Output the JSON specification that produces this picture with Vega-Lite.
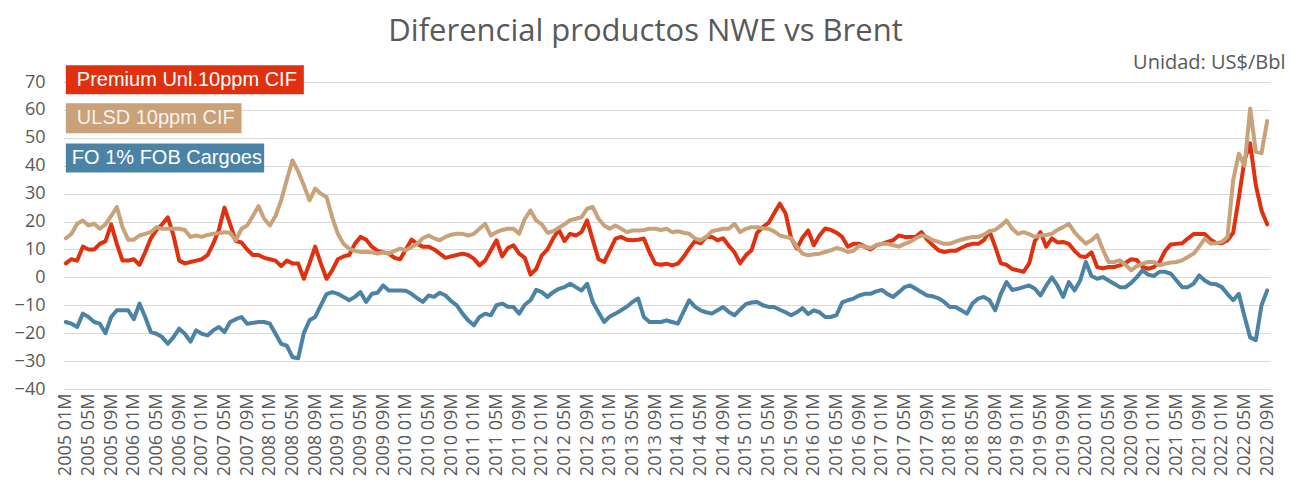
{
  "$schema": "https://vega.github.io/schema/vega-lite/v6.json",
  "width": 1207,
  "height": 307,
  "autosize": "none",
  "padding": {"left": 63, "top": 82, "right": 20, "bottom": 113},
  "background": "white",
  "config": {"view": {"stroke": null}},
  "title": {"text": "Diferencial productos NWE vs Brent", "anchor": "middle", "frame": "group", "dx": -21, "offset": 4, "font": "Open Sans", "fontSize": 31, "fontWeight": "normal", "color": "#595959"},
  "resolve": {"axis": {"x": "independent", "y": "independent"}},
  "layer": [
    {
      "data": {"values": [
{"m":"2005 01M","p":5,"u":14,"f":-16},{"m":"2005 02M","p":6.5,"u":15.6,"f":-16.6},{"m":"2005 03M","p":6,"u":19.2,"f":-17.8},{"m":"2005 04M","p":11,"u":20.4,"f":-13},{"m":"2005 05M","p":10,"u":18.6,"f":-14.2},{"m":"2005 06M","p":10,"u":19.2,"f":-16},{"m":"2005 07M","p":12,"u":17.4,"f":-16.6},{"m":"2005 08M","p":13,"u":19,"f":-20},{"m":"2005 09M","p":19,"u":22,"f":-14.2},{"m":"2005 10M","p":12,"u":25.2,"f":-11.8},{"m":"2005 11M","p":6,"u":18,"f":-11.8},{"m":"2005 12M","p":6,"u":13.5,"f":-11.8},
{"m":"2006 01M","p":6.5,"u":13.5,"f":-15},{"m":"2006 02M","p":4.5,"u":15,"f":-9.4},{"m":"2006 03M","p":9,"u":15.6,"f":-14.2},{"m":"2006 04M","p":14,"u":16.2,"f":-19.6},{"m":"2006 05M","p":17,"u":18,"f":-20.2},{"m":"2006 06M","p":19,"u":17.4,"f":-21.4},{"m":"2006 07M","p":21.5,"u":17.4,"f":-23.8},{"m":"2006 08M","p":15,"u":17.4,"f":-21.4},{"m":"2006 09M","p":6,"u":17.4,"f":-18.4},{"m":"2006 10M","p":5,"u":17,"f":-20.2},{"m":"2006 11M","p":5.5,"u":14.5,"f":-23},{"m":"2006 12M","p":6,"u":15,"f":-19},
{"m":"2007 01M","p":6.5,"u":14.5,"f":-20.2},{"m":"2007 02M","p":8,"u":15.2,"f":-20.8},{"m":"2007 03M","p":12,"u":15.6,"f":-19},{"m":"2007 04M","p":17,"u":15.8,"f":-17.8},{"m":"2007 05M","p":25,"u":16.2,"f":-19.6},{"m":"2007 06M","p":19,"u":16,"f":-16},{"m":"2007 07M","p":13,"u":13.3,"f":-15},{"m":"2007 08M","p":12.5,"u":17.4,"f":-14.2},{"m":"2007 09M","p":10,"u":18.6,"f":-16.6},{"m":"2007 10M","p":8,"u":22,"f":-16.3},{"m":"2007 11M","p":8,"u":25.5,"f":-16},{"m":"2007 12M","p":7,"u":21,"f":-16},
{"m":"2008 01M","p":6.5,"u":18.6,"f":-16.6},{"m":"2008 02M","p":6,"u":22,"f":-20.2},{"m":"2008 03M","p":4,"u":27.6,"f":-23.8},{"m":"2008 04M","p":6,"u":35,"f":-24.5},{"m":"2008 05M","p":5,"u":41.9,"f":-28.6},{"m":"2008 06M","p":5,"u":38,"f":-29},{"m":"2008 07M","p":-0.5,"u":33,"f":-20},{"m":"2008 08M","p":5,"u":27.6,"f":-15.4},{"m":"2008 09M","p":11,"u":31.8,"f":-14.2},{"m":"2008 10M","p":5,"u":30,"f":-10},{"m":"2008 11M","p":-0.5,"u":28.8,"f":-6},{"m":"2008 12M","p":2.5,"u":21.6,"f":-5.3},
{"m":"2009 01M","p":6.5,"u":15.6,"f":-5.9},{"m":"2009 02M","p":7.5,"u":12,"f":-7},{"m":"2009 03M","p":8,"u":10.3,"f":-8.2},{"m":"2009 04M","p":12,"u":9.5,"f":-7},{"m":"2009 05M","p":14.5,"u":9.1,"f":-5.3},{"m":"2009 06M","p":13.5,"u":9.1,"f":-8.8},{"m":"2009 07M","p":11,"u":9,"f":-5.9},{"m":"2009 08M","p":9.5,"u":8.5,"f":-5.5},{"m":"2009 09M","p":9,"u":9,"f":-2.9},{"m":"2009 10M","p":8.5,"u":8.5,"f":-4.7},{"m":"2009 11M","p":7,"u":9.5,"f":-4.7},{"m":"2009 12M","p":6.5,"u":10.3,"f":-4.7},
{"m":"2010 01M","p":10,"u":9.7,"f":-4.8},{"m":"2010 02M","p":13.5,"u":10.9,"f":-5.9},{"m":"2010 03M","p":12,"u":12,"f":-7.5},{"m":"2010 04M","p":11,"u":14,"f":-8.8},{"m":"2010 05M","p":11,"u":15,"f":-6.5},{"m":"2010 06M","p":10,"u":14,"f":-7},{"m":"2010 07M","p":8.5,"u":13.3,"f":-5.5},{"m":"2010 08M","p":7,"u":14.5,"f":-6.5},{"m":"2010 09M","p":7.5,"u":15.3,"f":-8.5},{"m":"2010 10M","p":8,"u":15.6,"f":-10},{"m":"2010 11M","p":8.5,"u":15.6,"f":-13},{"m":"2010 12M","p":8,"u":15,"f":-15.4},
{"m":"2011 01M","p":6.7,"u":15.6,"f":-17.2},{"m":"2011 02M","p":4.3,"u":17.4,"f":-14.2},{"m":"2011 03M","p":6,"u":19.2,"f":-13},{"m":"2011 04M","p":9.7,"u":15,"f":-13.6},{"m":"2011 05M","p":13.3,"u":16.2,"f":-10},{"m":"2011 06M","p":7.5,"u":17,"f":-9.4},{"m":"2011 07M","p":10.5,"u":17.4,"f":-10.5},{"m":"2011 08M","p":11.5,"u":17.4,"f":-10.6},{"m":"2011 09M","p":8.5,"u":15.6,"f":-13},{"m":"2011 10M","p":7,"u":21,"f":-9.8},{"m":"2011 11M","p":1,"u":24,"f":-8.2},{"m":"2011 12M","p":3,"u":20.4,"f":-4.5},
{"m":"2012 01M","p":7.9,"u":19,"f":-5.3},{"m":"2012 02M","p":10,"u":16,"f":-7},{"m":"2012 03M","p":14,"u":16.5,"f":-5.3},{"m":"2012 04M","p":17,"u":17.8,"f":-4.1},{"m":"2012 05M","p":13,"u":19,"f":-3.5},{"m":"2012 06M","p":15.6,"u":20.5,"f":-2.3},{"m":"2012 07M","p":15,"u":21,"f":-3.5},{"m":"2012 08M","p":16.2,"u":21.6,"f":-4.7},{"m":"2012 09M","p":20.4,"u":24.6,"f":-2.3},{"m":"2012 10M","p":13.3,"u":25.2,"f":-8.8},{"m":"2012 11M","p":6.5,"u":21,"f":-12.5},{"m":"2012 12M","p":5.5,"u":18.6,"f":-16},
{"m":"2013 01M","p":9.7,"u":17.4,"f":-14},{"m":"2013 02M","p":13.9,"u":18.6,"f":-13},{"m":"2013 03M","p":14.5,"u":17.4,"f":-11.8},{"m":"2013 04M","p":13.5,"u":16.2,"f":-10.5},{"m":"2013 05M","p":13.3,"u":16.8,"f":-8.8},{"m":"2013 06M","p":13.5,"u":16.8,"f":-7.6},{"m":"2013 07M","p":13.9,"u":17,"f":-14.2},{"m":"2013 08M","p":9,"u":17.4,"f":-16},{"m":"2013 09M","p":4.9,"u":17.4,"f":-16},{"m":"2013 10M","p":4.5,"u":17,"f":-16},{"m":"2013 11M","p":4.9,"u":17.4,"f":-15.4},{"m":"2013 12M","p":4.3,"u":16.2,"f":-16},
{"m":"2014 01M","p":4.9,"u":16.5,"f":-16.6},{"m":"2014 02M","p":7.3,"u":16,"f":-12.4},{"m":"2014 03M","p":10.3,"u":15.6,"f":-8.2},{"m":"2014 04M","p":13,"u":14,"f":-10.5},{"m":"2014 05M","p":12.2,"u":13.3,"f":-11.8},{"m":"2014 06M","p":14.5,"u":14.5,"f":-12.5},{"m":"2014 07M","p":14.5,"u":16.5,"f":-13},{"m":"2014 08M","p":13.3,"u":17,"f":-11.8},{"m":"2014 09M","p":14,"u":17.4,"f":-10.6},{"m":"2014 10M","p":11.3,"u":17.4,"f":-12.4},{"m":"2014 11M","p":9,"u":19.2,"f":-13.6},{"m":"2014 12M","p":5,"u":16.2,"f":-11.5},
{"m":"2015 01M","p":7.9,"u":17.4,"f":-9.6},{"m":"2015 02M","p":9.7,"u":18,"f":-9},{"m":"2015 03M","p":16,"u":18,"f":-8.8},{"m":"2015 04M","p":18,"u":17.6,"f":-10},{"m":"2015 05M","p":19.5,"u":17.4,"f":-10.6},{"m":"2015 06M","p":23,"u":16.5,"f":-10.6},{"m":"2015 07M","p":26.4,"u":15,"f":-11.6},{"m":"2015 08M","p":23,"u":14.5,"f":-12.5},{"m":"2015 09M","p":14,"u":14,"f":-13.6},{"m":"2015 10M","p":10.3,"u":11,"f":-12.5},{"m":"2015 11M","p":14.2,"u":8.5,"f":-11},{"m":"2015 12M","p":16.8,"u":7.9,"f":-13.2},
{"m":"2016 01M","p":11.5,"u":8.3,"f":-11.8},{"m":"2016 02M","p":15,"u":8.5,"f":-12.5},{"m":"2016 03M","p":17.5,"u":9.1,"f":-14.2},{"m":"2016 04M","p":17,"u":9.7,"f":-14.2},{"m":"2016 05M","p":16,"u":10.5,"f":-13.5},{"m":"2016 06M","p":14.5,"u":10,"f":-9},{"m":"2016 07M","p":11,"u":9.1,"f":-8.2},{"m":"2016 08M","p":12,"u":9.5,"f":-7.6},{"m":"2016 09M","p":12,"u":11.3,"f":-6.5},{"m":"2016 10M","p":11,"u":11,"f":-5.9},{"m":"2016 11M","p":10,"u":10.5,"f":-5.9},{"m":"2016 12M","p":11.5,"u":11.5,"f":-5},
{"m":"2017 01M","p":12,"u":12,"f":-4.5},{"m":"2017 02M","p":12.7,"u":12,"f":-6},{"m":"2017 03M","p":13.3,"u":11.5,"f":-7},{"m":"2017 04M","p":15,"u":11,"f":-5.3},{"m":"2017 05M","p":14.5,"u":12,"f":-3.5},{"m":"2017 06M","p":14.5,"u":12.7,"f":-2.9},{"m":"2017 07M","p":14.5,"u":14,"f":-4.1},{"m":"2017 08M","p":16.2,"u":15,"f":-5.3},{"m":"2017 09M","p":13.5,"u":14.5,"f":-6.5},{"m":"2017 10M","p":11.5,"u":13.3,"f":-6.8},{"m":"2017 11M","p":9.7,"u":12.7,"f":-7.5},{"m":"2017 12M","p":9.1,"u":12,"f":-8.8},
{"m":"2018 01M","p":9.5,"u":12,"f":-10.6},{"m":"2018 02M","p":9.5,"u":12.8,"f":-10.6},{"m":"2018 03M","p":10.5,"u":13.5,"f":-11.8},{"m":"2018 04M","p":11.5,"u":14,"f":-13},{"m":"2018 05M","p":12,"u":14.5,"f":-9.4},{"m":"2018 06M","p":12,"u":14.5,"f":-7.6},{"m":"2018 07M","p":13.3,"u":15.3,"f":-7},{"m":"2018 08M","p":16.5,"u":16.5,"f":-8.2},{"m":"2018 09M","p":11,"u":17,"f":-11.8},{"m":"2018 10M","p":5,"u":18.5,"f":-5.9},{"m":"2018 11M","p":4.5,"u":20.4,"f":-1.7},{"m":"2018 12M","p":3,"u":17.4,"f":-4.5},
{"m":"2019 01M","p":2.5,"u":15.6,"f":-4.1},{"m":"2019 02M","p":2,"u":16.2,"f":-3.5},{"m":"2019 03M","p":5,"u":15.5,"f":-2.9},{"m":"2019 04M","p":13,"u":14.5,"f":-4.1},{"m":"2019 05M","p":16.2,"u":15,"f":-6.5},{"m":"2019 06M","p":11,"u":15.2,"f":-3},{"m":"2019 07M","p":14,"u":15.6,"f":0},{"m":"2019 08M","p":12.5,"u":17,"f":-3},{"m":"2019 09M","p":12.7,"u":18,"f":-7},{"m":"2019 10M","p":12,"u":19.2,"f":-1.7},{"m":"2019 11M","p":9.5,"u":16.2,"f":-4.7},{"m":"2019 12M","p":7.6,"u":14,"f":-1.1},
{"m":"2020 01M","p":7.3,"u":12.1,"f":5.5},{"m":"2020 02M","p":9,"u":13.3,"f":0.5},{"m":"2020 03M","p":3.7,"u":15.1,"f":-0.5},{"m":"2020 04M","p":3.2,"u":10,"f":0.1},{"m":"2020 05M","p":3.7,"u":5.5,"f":-1.1},{"m":"2020 06M","p":3.7,"u":5.5,"f":-2.3},{"m":"2020 07M","p":4.3,"u":6.1,"f":-3.5},{"m":"2020 08M","p":5.2,"u":4.5,"f":-3.5},{"m":"2020 09M","p":6.5,"u":2.5,"f":-2},{"m":"2020 10M","p":6.2,"u":4,"f":0.1},{"m":"2020 11M","p":3.7,"u":4.9,"f":2.5},{"m":"2020 12M","p":3.1,"u":5.5,"f":1},
{"m":"2021 01M","p":3.7,"u":5.5,"f":0.5},{"m":"2021 02M","p":5.5,"u":4.3,"f":2},{"m":"2021 03M","p":9.5,"u":4.9,"f":2},{"m":"2021 04M","p":11.8,"u":5.3,"f":1.3},{"m":"2021 05M","p":12,"u":5.5,"f":-1.1},{"m":"2021 06M","p":12.2,"u":6.1,"f":-3.5},{"m":"2021 07M","p":13.9,"u":7.3,"f":-3.5},{"m":"2021 08M","p":15.5,"u":8.5,"f":-2.3},{"m":"2021 09M","p":15.5,"u":11,"f":0.7},{"m":"2021 10M","p":15.5,"u":13.9,"f":-1.1},{"m":"2021 11M","p":13.5,"u":12.1,"f":-2.3},{"m":"2021 12M","p":12.3,"u":12.2,"f":-2.5},
{"m":"2022 01M","p":12.2,"u":12.7,"f":-3.5},{"m":"2022 02M","p":13.3,"u":14.5,"f":-6},{"m":"2022 03M","p":16,"u":34.8,"f":-8.2},{"m":"2022 04M","p":28.5,"u":44.3,"f":-5.9},{"m":"2022 05M","p":42,"u":40,"f":-14},{"m":"2022 06M","p":48,"u":60.5,"f":-21.5},{"m":"2022 07M","p":33,"u":45,"f":-22.5},{"m":"2022 08M","p":24,"u":44.5,"f":-10},{"m":"2022 09M","p":19,"u":56,"f":-4.7}
      ]},
      "transform": [{"fold": ["p", "u", "f"], "as": ["k", "v"]}],
      "mark": {"type": "line", "strokeWidth": 4, "strokeJoin": "round", "strokeCap": "round"},
      "encoding": {
        "x": {"field": "m", "type": "ordinal", "scale": {"type": "point", "padding": 0.5},
          "axis": {"title": null, "labelAngle": -90, "labelExpr": "indexof(['01','05','09'], slice(datum.value, 5, 7)) >= 0 ? datum.value : ''", "ticks": false, "domain": false, "grid": false, "labelPadding": 4, "labelFont": "Open Sans", "labelFontSize": 18, "labelColor": "#595959", "labelOverlap": false}},
        "y": {"field": "v", "type": "quantitative", "scale": {"domain": [-40, 70], "nice": false, "zero": false},
          "axis": {"title": "Unidad: US$/Bbl", "titleAngle": 0, "titleAlign": "right", "titleBaseline": "alphabetic", "titleX": 1222, "titleY": -14, "titleFont": "Open Sans", "titleFontSize": 20, "titleFontWeight": "normal", "titleColor": "#595959",
            "values": [-40, -30, -20, -10, 0, 10, 20, 30, 40, 50, 60, 70], "labelOverlap": false, "ticks": false, "domain": false, "labelPadding": 18, "labelFont": "Open Sans", "labelFontSize": 18, "labelColor": "#595959", "grid": true, "gridColor": "#D9D9D9", "gridWidth": 1}},
        "color": {"field": "k", "type": "nominal", "scale": {"domain": ["p", "u", "f"], "range": ["#E0300F", "#C9A27A", "#4B83A6"]}, "legend": null}
      }
    },
    {
      "data": {"values": [{}]},
      "mark": {"type": "rect", "color": "#E0300F"},
      "encoding": {"x": {"datum": "2005 01M", "type": "ordinal", "axis": null}, "x2": {"datum": "2008 07M"}, "y": {"datum": 76, "type": "quantitative", "axis": null}, "y2": {"datum": 65.6}}
    },
    {
      "data": {"values": [{}]},
      "mark": {"type": "rect", "color": "#C9A27A"},
      "encoding": {"x": {"datum": "2005 01M", "type": "ordinal", "axis": null}, "x2": {"datum": "2007 08M"}, "y": {"datum": 62.4, "type": "quantitative", "axis": null}, "y2": {"datum": 51.6}}
    },
    {
      "data": {"values": [{}]},
      "mark": {"type": "rect", "color": "#4B83A6"},
      "encoding": {"x": {"datum": "2005 01M", "type": "ordinal", "axis": null}, "x2": {"datum": "2007 12M"}, "y": {"datum": 48, "type": "quantitative", "axis": null}, "y2": {"datum": 37.6}}
    },
    {
      "data": {"values": [{}]},
      "mark": {"type": "text", "align": "left", "baseline": "middle", "dx": 11, "font": "Liberation Sans", "fontSize": 20, "color": "white"},
      "encoding": {"x": {"datum": "2005 01M", "type": "ordinal", "axis": null}, "y": {"datum": 70.8, "type": "quantitative", "axis": null}, "text": {"value": "Premium Unl.10ppm CIF"}}
    },
    {
      "data": {"values": [{}]},
      "mark": {"type": "text", "align": "left", "baseline": "middle", "dx": 11, "font": "Liberation Sans", "fontSize": 20, "color": "white", "opacity": 0.85},
      "encoding": {"x": {"datum": "2005 01M", "type": "ordinal", "axis": null}, "y": {"datum": 57, "type": "quantitative", "axis": null}, "text": {"value": "ULSD 10ppm CIF"}}
    },
    {
      "data": {"values": [{}]},
      "mark": {"type": "text", "align": "left", "baseline": "middle", "dx": 6, "font": "Liberation Sans", "fontSize": 20, "color": "white"},
      "encoding": {"x": {"datum": "2005 01M", "type": "ordinal", "axis": null}, "y": {"datum": 42.8, "type": "quantitative", "axis": null}, "text": {"value": "FO 1% FOB Cargoes"}}
    }
  ]
}
